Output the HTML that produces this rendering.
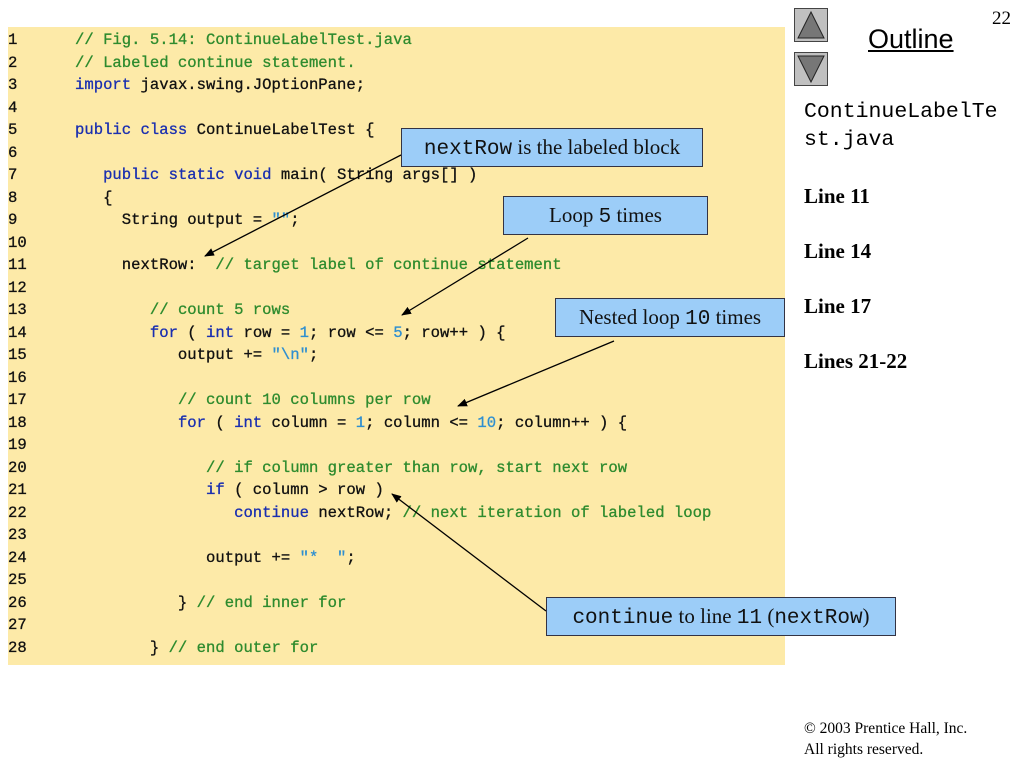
<!DOCTYPE html>
<html><head><meta charset="utf-8"><style>
body{margin:0;width:1024px;height:768px;background:#fff;position:relative;overflow:hidden;font-family:"Liberation Sans",sans-serif}
.code{position:absolute;left:8px;top:27px;width:777px;height:638px;background:#fdeaa8}
pre{position:absolute;margin:0;font-family:"Liberation Mono",monospace;font-size:15.6px;line-height:22.5px;color:#111;-webkit-text-stroke:0.3px}
.c{color:#2e8b2e}.k{color:#1a2fb0}.l{color:#2f8fd0}
.box{position:absolute;background:#9ccdf8;border:1.5px solid #334;font-family:"Liberation Serif",serif;font-size:21px;color:#111;text-align:center;box-sizing:border-box;line-height:37px}
.m{font-family:"Liberation Mono",monospace;font-size:21px}
.r{position:absolute;left:804px;font-family:"Liberation Serif",serif;font-weight:bold;font-size:21px}
.nav{position:absolute;left:794px;width:34px;height:34px;background:#c0c0c0;border:1px solid #444;box-sizing:border-box}
</style></head><body>
<div class="code"></div>
<pre style="left:8px;top:29px">1
2
3
4
5
6
7
8
9
10
11
12
13
14
15
16
17
18
19
20
21
22
23
24
25
26
27
28</pre>
<pre style="left:75px;top:29px"><span class="c">// Fig. 5.14: ContinueLabelTest.java</span>
<span class="c">// Labeled continue statement.</span>
<span class="k">import</span> javax.swing.JOptionPane;

<span class="k">public class</span> ContinueLabelTest {

   <span class="k">public static void</span> main( String args[] )
   {
     String output = <span class="l">""</span>;

     nextRow:  <span class="c">// target label of continue statement</span>

        <span class="c">// count 5 rows</span>
        <span class="k">for</span> ( <span class="k">int</span> row = <span class="l">1</span>; row &lt;= <span class="l">5</span>; row++ ) {
           output += <span class="l">"\n"</span>;

           <span class="c">// count 10 columns per row</span>
           <span class="k">for</span> ( <span class="k">int</span> column = <span class="l">1</span>; column &lt;= <span class="l">10</span>; column++ ) {

              <span class="c">// if column greater than row, start next row</span>
              <span class="k">if</span> ( column &gt; row )
                 <span class="k">continue</span> nextRow; <span class="c">// next iteration of labeled loop</span>

              output += <span class="l">"*  "</span>;

           } <span class="c">// end inner for</span>

        } <span class="c">// end outer for</span></pre>
<svg style="position:absolute;left:0;top:0" width="1024" height="768">
<defs><marker id="a" markerWidth="10" markerHeight="8" refX="9" refY="4" orient="auto" markerUnits="userSpaceOnUse"><path d="M0,0L10,4L0,8z" fill="#000"/></marker></defs>
<g stroke="#000" stroke-width="1.3" marker-end="url(#a)">
<line x1="401" y1="155" x2="205" y2="256"/>
<line x1="528" y1="238" x2="402" y2="315"/>
<line x1="614" y1="341" x2="458" y2="406"/>
<line x1="546" y1="611" x2="392" y2="494"/>
</g></svg>
<div class="box" style="left:401px;top:128px;width:302px;height:39px"><span class="m">nextRow</span> is the labeled block</div>
<div class="box" style="left:503px;top:196px;width:205px;height:39px">Loop <span class="m">5</span> times</div>
<div class="box" style="left:555px;top:298px;width:230px;height:39px">Nested loop <span class="m">10</span> times</div>
<div class="box" style="left:546px;top:597px;width:350px;height:39px"><span class="m">continue</span> to line <span class="m">11</span> (<span class="m">nextRow</span>)</div>
<div class="nav" style="top:8px"><svg width="32" height="32"><path d="M16,3L29,29H3z" fill="#777" stroke="#222"/></svg></div>
<div class="nav" style="top:52px"><svg width="32" height="32"><path d="M3,3H29L16,29z" fill="#777" stroke="#222"/></svg></div>
<div style="position:absolute;left:868px;top:24px;font-size:27px;text-decoration:underline">Outline</div>
<div style="position:absolute;left:992px;top:8px;font-family:'Liberation Serif',serif;font-size:19px">22</div>
<div style="position:absolute;left:804px;top:98px;font-family:'Liberation Mono',monospace;font-size:21.5px;line-height:28px">ContinueLabelTe<br>st.java</div>
<div class="r" style="top:184px">Line 11</div>
<div class="r" style="top:239px">Line 14</div>
<div class="r" style="top:294px">Line 17</div>
<div class="r" style="top:349px">Lines 21-22</div>
<div style="position:absolute;left:804px;top:718px;font-family:'Liberation Serif',serif;font-size:15.5px;line-height:21px">© 2003 Prentice Hall, Inc.<br>All rights reserved.</div>
</body></html>
